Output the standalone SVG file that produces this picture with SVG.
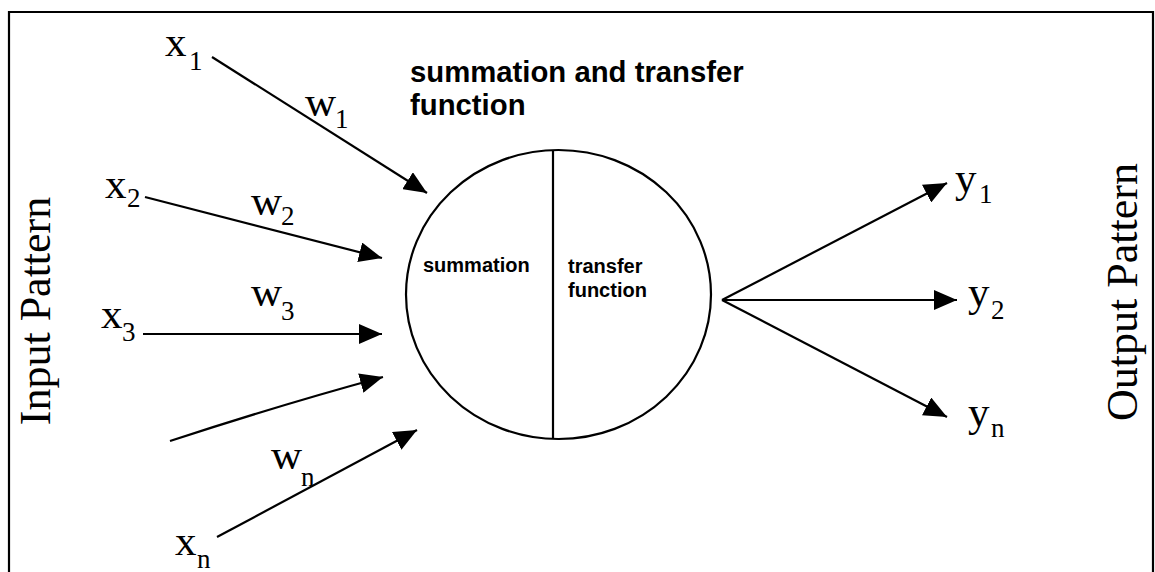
<svg xmlns="http://www.w3.org/2000/svg" width="1155" height="572" viewBox="0 0 1155 572">
  <style>
    .serif { font-family: "Liberation Serif", "Times New Roman", serif; fill: #000; }
    .lbl { font-size: 43px; }
    .sub { font-size: 27px; }
    .side { font-size: 44px; }
    .sans { font-family: "Liberation Sans", Arial, sans-serif; font-weight: bold; fill: #000; }
    .title { font-size: 29.3px; }
    .inner { font-size: 20px; }
    .edge { stroke: #000; stroke-width: 2.2; fill: none; marker-end: url(#arrow); }
    .shape { stroke: #000; stroke-width: 2.2; fill: #fff; }
  </style>
  <defs>
    <marker id="arrow" viewBox="0 0 23 20" refX="23" refY="10" markerWidth="23" markerHeight="20" markerUnits="userSpaceOnUse" orient="auto">
      <path d="M0,0 L23,10 L0,20 z" fill="#000"/>
    </marker>
  </defs>
  <rect x="0" y="0" width="1155" height="572" fill="#fff"/>
  <g id="frame" fill="none" stroke="#000" stroke-width="2.2">
    <path d="M9,572 L9,12 L1153,12 L1153,572"/>
  </g>

  <g id="connectors">
    <line class="edge" x1="212" y1="57" x2="427" y2="193"/>
    <line class="edge" x1="145" y1="197" x2="382" y2="258"/>
    <line class="edge" x1="143" y1="334" x2="382" y2="334"/>
    <path class="edge" d="M170,441 Q280,405 383,377"/>
    <line class="edge" x1="217" y1="537" x2="417" y2="430"/>
    <line class="edge" x1="722" y1="300" x2="947" y2="183"/>
    <line class="edge" x1="722" y1="300" x2="957" y2="300"/>
    <line class="edge" x1="722" y1="300" x2="947" y2="417"/>
  </g>

  <g id="neuron">
    <ellipse class="shape" cx="558.5" cy="294.5" rx="152.5" ry="144.5"/>
    <line x1="553" y1="150" x2="553" y2="439" stroke="#000" stroke-width="2.2"/>
    <text class="sans inner" x="423" y="272">summation</text>
    <text class="sans inner" x="568" y="273">transfer</text>
    <text class="sans inner" x="568" y="297">function</text>
  </g>

  <g id="title">
    <text class="sans title" x="410" y="82">summation and transfer</text>
    <text class="sans title" x="410" y="115">function</text>
  </g>

  <g id="input-x1"><text class="serif lbl" x="165" y="56">x<tspan class="sub" x="189" y="70">1</tspan></text></g>
  <g id="weight-w1"><text class="serif lbl" x="305" y="116">w<tspan class="sub" x="335" y="128">1</tspan></text></g>
  <g id="input-x2"><text class="serif lbl" x="105" y="198">x<tspan class="sub" x="127" y="207">2</tspan></text></g>
  <g id="weight-w2"><text class="serif lbl" x="251" y="215">w<tspan class="sub" x="281" y="225">2</tspan></text></g>
  <g id="input-x3"><text class="serif lbl" x="101" y="328">x<tspan class="sub" x="122" y="341">3</tspan></text></g>
  <g id="weight-w3"><text class="serif lbl" x="251" y="306">w<tspan class="sub" x="281" y="320">3</tspan></text></g>
  <g id="weight-wn"><text class="serif lbl" x="271" y="469">w<tspan class="sub" x="301" y="486">n</tspan></text></g>
  <g id="input-xn"><text class="serif lbl" x="175" y="555">x<tspan class="sub" x="197" y="568">n</tspan></text></g>

  <g id="output-y1"><text class="serif lbl" x="955" y="192">y<tspan class="sub" x="979" y="203">1</tspan></text></g>
  <g id="output-y2"><text class="serif lbl" x="968" y="306">y<tspan class="sub" x="991" y="319">2</tspan></text></g>
  <g id="output-yn"><text class="serif lbl" x="968" y="426">y<tspan class="sub" x="991" y="437">n</tspan></text></g>

  <g id="input-pattern"><text class="serif side" text-anchor="middle" transform="translate(50,311) rotate(-90)">Input Pattern</text></g>
  <g id="output-pattern"><text class="serif side" text-anchor="middle" transform="translate(1137,292) rotate(-90)">Output Pattern</text></g>
</svg>
